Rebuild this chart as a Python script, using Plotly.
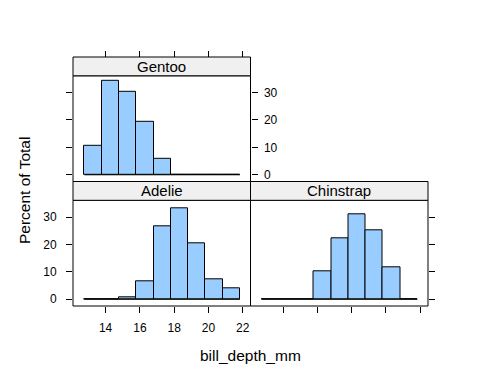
import plotly.graph_objects as go

# ---- data ----
bin_edges = [12.764, 13.772, 14.78, 15.788, 16.796, 17.804, 18.812, 19.82, 20.828, 21.836]
pct_adelie = [0, 0, 0.7, 6.7, 26.7, 33.3, 20.5, 7.3, 4.0]
pct_chinstrap = [0, 0, 0, 10.3, 22.1, 30.9, 25.0, 11.8, 0]
pct_gentoo = [10.6, 34.1, 30.1, 19.5, 5.7, 0, 0, 0, 0]
x_ticks = [14, 16, 18, 20, 22]
y_ticks = [0, 10, 20, 30]
species = ["Adelie", "Chinstrap", "Gentoo"]

centers = [(a + b) / 2 for a, b in zip(bin_edges[:-1], bin_edges[1:])]
widths = [b - a for a, b in zip(bin_edges[:-1], bin_edges[1:])]

FILL = "#99CCFF"
FONT = "Liberation Sans, Arial, sans-serif"

fig = go.Figure()
panels = [(pct_adelie, "x", "y"), (pct_chinstrap, "x2", "y2"), (pct_gentoo, "x3", "y3")]
for vals, xa, ya in panels:
    fig.add_trace(go.Bar(x=centers, y=vals, width=widths, base=0,
                         marker=dict(color=FILL, line=dict(color="black", width=1)),
                         xaxis=xa, yaxis=ya, showlegend=False, hoverinfo="skip"))
    fig.add_trace(go.Scatter(x=[bin_edges[0], bin_edges[-1]], y=[0, 0], mode="lines",
                             line=dict(color="black", width=1),
                             xaxis=xa, yaxis=ya, showlegend=False, hoverinfo="skip"))
# invisible traces for the extra tick axes
fig.add_trace(go.Scatter(x=[bin_edges[0]], y=[0], mode="markers", marker=dict(opacity=0),
                         xaxis="x4", yaxis="y3", showlegend=False, hoverinfo="skip"))
fig.add_trace(go.Scatter(x=[bin_edges[0]], y=[0], mode="markers", marker=dict(opacity=0),
                         xaxis="x3", yaxis="y4", showlegend=False, hoverinfo="skip"))

XR = [12.1, 22.45]
YR = [-2.45, 36.1]
tickfont = dict(family=FONT, size=12, color="black")
common_x = dict(range=XR, tickvals=x_ticks, showgrid=False, zeroline=False, showline=False,
                ticklen=6, tickcolor="black", tickwidth=1, tickfont=tickfont)
common_y = dict(range=YR, tickvals=y_ticks, showgrid=False, zeroline=False, showline=False,
                ticklen=6, tickcolor="black", tickwidth=1, tickfont=tickfont)

ROW1_TOP = 0.4245
ROW2_BOT = 0.5
ROW2_TOP = 0.9245

# page has an 8px body margin; margins compensate for it
fig.update_layout(
    width=480, height=384,
    margin=dict(l=65, r=60, t=49, b=86),
    paper_bgcolor="white", plot_bgcolor="white",
    bargap=0,
    xaxis=dict(domain=[0, 0.5], anchor="y", ticks="outside", ticklabelstandoff=5, **common_x),
    yaxis=dict(domain=[0, ROW1_TOP], anchor="x", ticks="outside", side="left",
               ticklabelstandoff=7, **common_y),
    xaxis2=dict(domain=[0.5, 1], anchor="y2", ticks="outside", showticklabels=False, **common_x),
    yaxis2=dict(domain=[0, ROW1_TOP], anchor="x2", ticks="outside", side="right",
                showticklabels=False, **common_y),
    xaxis3=dict(domain=[0, 0.5], anchor="y3", ticks="", showticklabels=False, **common_x),
    yaxis3=dict(domain=[ROW2_BOT, ROW2_TOP], anchor="x3", ticks="outside", side="right",
                ticklabelstandoff=4, **common_y),
    yaxis4=dict(range=YR, tickvals=y_ticks, overlaying="y3", anchor="x3", side="left",
                ticks="outside", ticklen=6, tickcolor="black", showticklabels=False,
                showline=False, showgrid=False, zeroline=False),
    xaxis4=dict(range=XR, tickvals=x_ticks, overlaying="x3", anchor="free", position=1.0,
                side="top", ticks="outside", ticklen=6, tickcolor="black",
                showticklabels=False, showline=False, showgrid=False, zeroline=False),
)

# panel borders
for x0, x1, y0, y1 in [(0, 0.5, 0, ROW1_TOP), (0.5, 1, 0, ROW1_TOP), (0, 0.5, ROW2_BOT, ROW2_TOP)]:
    fig.add_shape(type="rect", xref="paper", yref="paper", x0=x0, x1=x1, y0=y0, y1=y1,
                  line=dict(color="black", width=1), layer="above")

# strips
strips = [(0, 0.5, ROW1_TOP, ROW2_BOT, "Adelie"),
          (0.5, 1, ROW1_TOP, ROW2_BOT, "Chinstrap"),
          (0, 0.5, ROW2_TOP, 1.0, "Gentoo")]
for x0, x1, y0, y1, name in strips:
    fig.add_shape(type="rect", xref="paper", yref="paper", x0=x0, x1=x1, y0=y0, y1=y1,
                  fillcolor="#F0F0F0", line=dict(color="black", width=1), layer="above")
    fig.add_annotation(xref="paper", yref="paper", x=(x0 + x1) / 2, y=(y0 + y1) / 2,
                       text=name, showarrow=False, xanchor="center", yanchor="middle",
                       font=dict(family=FONT, size=15, color="black"))

fig.add_annotation(xref="paper", yref="paper", x=0.4986, y=-0.197, text="bill_depth_mm",
                   showarrow=False, xanchor="center", yanchor="middle",
                   font=dict(family=FONT, size=15.5, color="black"))
fig.add_annotation(xref="paper", yref="paper", x=-0.135, y=0.462, text="Percent of Total",
                   textangle=-90, showarrow=False, xanchor="center", yanchor="middle",
                   font=dict(family=FONT, size=15.5, color="black"))

fig.write_html("out.html")
